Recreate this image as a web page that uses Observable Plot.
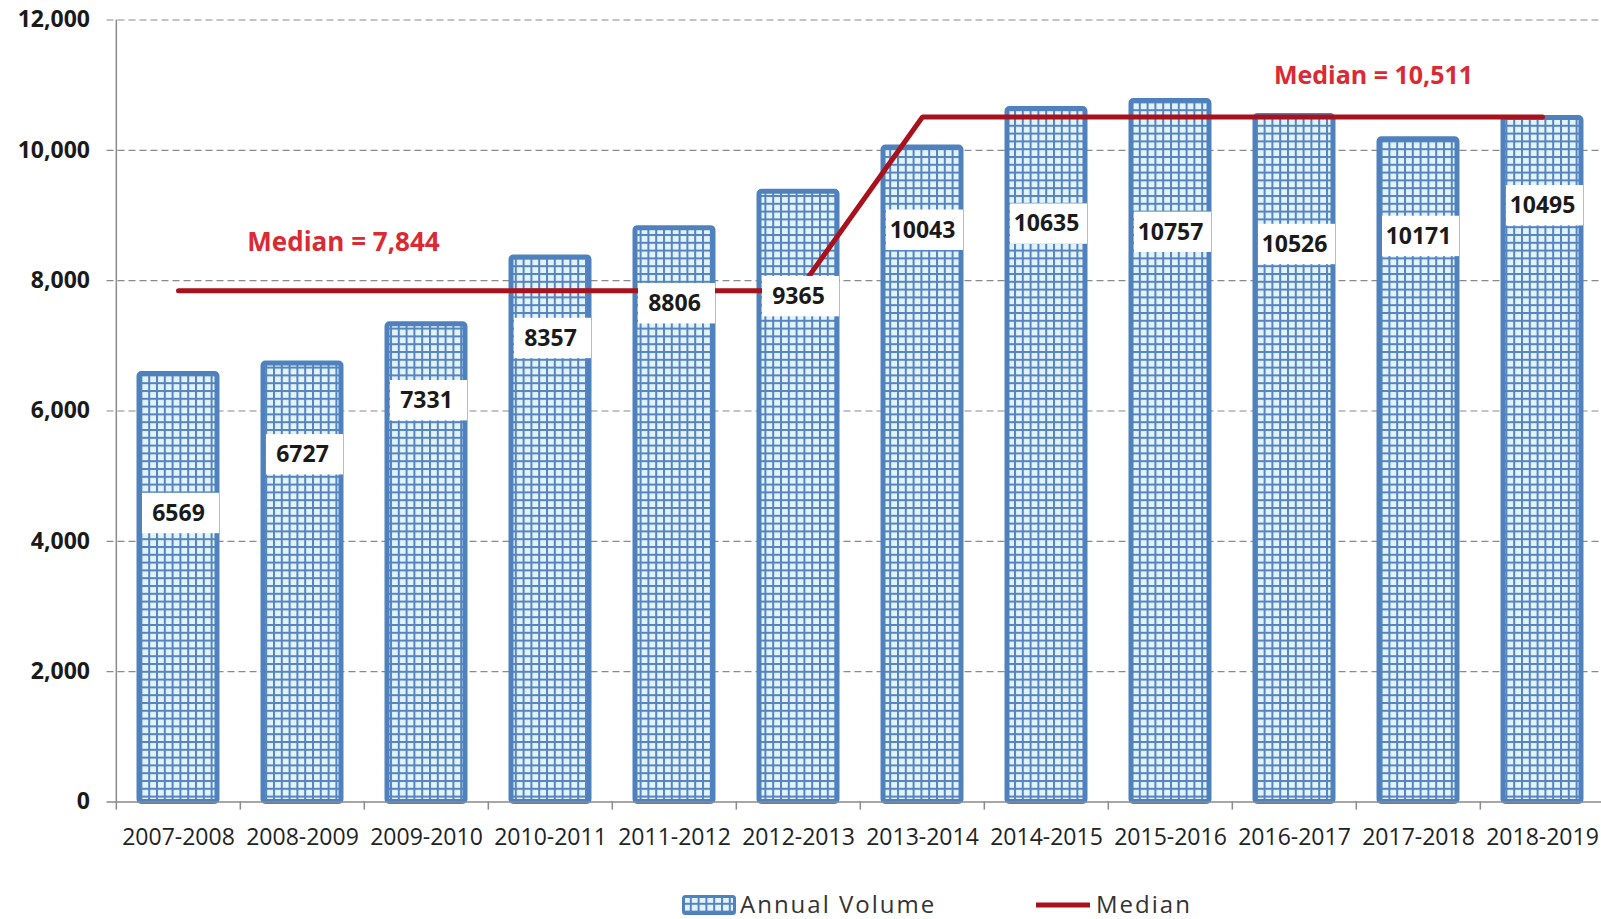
<!DOCTYPE html>
<html>
<head>
<meta charset="utf-8">
<script src="https://cdn.jsdelivr.net/npm/d3@7"></script>
<script src="https://cdn.jsdelivr.net/npm/@observablehq/plot@0.6"></script>
<style>
  html, body { margin: 0; padding: 0; background: #fff; }
  #wrap { position: relative; width: 1601px; height: 919px; overflow: hidden; font-family: "Open Sans", sans-serif; }
  #chart svg { display: block; font-family: "Open Sans", sans-serif; }
  [aria-label^="x-axis"] text { font-size: 23px; fill: #222; font-weight: 400; }
  [aria-label^="y-axis"] text { font-size: 23px; fill: #1a1a1a; font-weight: 700; }
  .leg { position: absolute; font-size: 24px; letter-spacing: 2px; color: #333; line-height: 1; }
</style>
</head>
<body>
<svg width="0" height="0" style="position:absolute">
  <defs>
    <pattern id="grid" width="7.8" height="7.8" patternUnits="userSpaceOnUse">
      <rect width="7.8" height="7.8" fill="#5584bf"></rect>
      <rect x="2" y="2" width="5.8" height="5.8" fill="#e2f3fb"></rect>
    </pattern>
  </defs>
</svg>
<div id="wrap">
  <div id="chart"></div>
  <div id="legend"></div>
</div>
<script>
// ---- data ----
const categories = ["2007-2008","2008-2009","2009-2010","2010-2011","2011-2012","2012-2013","2013-2014","2014-2015","2015-2016","2016-2017","2017-2018","2018-2019"];
const volumes = [6569, 6727, 7331, 8357, 8806, 9365, 10043, 10635, 10757, 10526, 10171, 10495];
const medians = [7844, 7844, 7844, 7844, 7844, 7844, 10511, 10511, 10511, 10511, 10511, 10511];
const labelAt = [4427, 5328, 6158, 7113, 7646, 7755, 8774, 8868, 8742, 8555, 8679, 9150];
const yTicks = [0, 2000, 4000, 6000, 8000, 10000, 12000];
const noteTexts = ["Median = 7,844", "Median = 10,511"];
const noteCats = ["2008-2009", "2017-2018"];
const noteAt = [8586, 11148];
const legendNames = ["Annual Volume", "Median"];

const rows = categories.map((c, i) => ({cat: c, vol: volumes[i], med: medians[i], lab: labelAt[i]}));
const notes = noteTexts.map((t, i) => ({text: t, cat: noteCats[i], v: noteAt[i]}));

const W = 1601, H = 870;
const x0 = 114.5, x1 = 1606.5;
const step = (x1 - x0) / categories.length;
const blue = "#4f81bd", red = "#a8121c", noteRed = "#da2a33";

const chart = Plot.plot({
  width: W,
  height: H,
  marginLeft: x0,
  marginRight: 0,
  marginTop: 19.5,
  marginBottom: H - 801.5,
  style: {fontFamily: "Open Sans, sans-serif", background: "white", overflow: "hidden"},
  x: {domain: categories, range: [x0, x1], paddingInner: 0.37, paddingOuter: 0.185, align: 0.5,
      tickSize: 0, tickPadding: 27, label: null},
  y: {domain: [0, 12000], ticks: yTicks, tickFormat: d3.format(","), tickSize: 0, tickPadding: 25, label: null},
  marks: [
    Plot.ruleY(yTicks.filter(d => d > 0), {stroke: "#8a8a8a", strokeWidth: 1.2, strokeDasharray: "7,4", insetLeft: -8}),
    Plot.barY(rows, {x: "cat", y: "vol", fill: "url(#grid)", stroke: blue, strokeWidth: 5, rx: 2.5}),
    Plot.ruleY([0], {stroke: "#8a8a8a", strokeWidth: 1.5, insetLeft: -8}),
    Plot.ruleX(categories, {x: d => d, dx: -step / 2, y1: 0, y2: -125, stroke: "#8a8a8a", strokeWidth: 1.5}),
    Plot.ruleX([categories[0]], {x: d => d, dx: -step / 2, y1: 0, y2: 12000, stroke: "#8a8a8a", strokeWidth: 1.5}),
    Plot.line(rows, {x: "cat", y: "med", stroke: red, strokeWidth: 5, strokeLinejoin: "miter"}),
    Plot.barY(rows, {x: "cat", y1: d => d.lab - 310, y2: d => d.lab + 310, fill: "white", insetLeft: 3, insetRight: -2}),
    Plot.text(rows, {x: "cat", y: "lab", text: d => String(d.vol), fontSize: 23, fontWeight: 700, fill: "#1a1a1a"}),
    Plot.text(notes.slice(0, 1), {x: "cat", y: "v", text: "text", fontSize: 26, fontWeight: 700, fill: noteRed, dx: 41}),
    Plot.text(notes.slice(1), {x: "cat", y: "v", text: "text", fontSize: 25, fontWeight: 700, fill: noteRed, dx: -45})
  ]
});
document.getElementById("chart").appendChild(chart);

// ---- legend ----
const legend = document.getElementById("legend");
legend.innerHTML = `
  <svg style="position:absolute;left:682px;top:895px" width="54" height="20">
    <rect x="1.5" y="1.5" width="51" height="17" fill="url(#grid)" stroke="${blue}" stroke-width="3" rx="2"></rect>
  </svg>
  <div class="leg" style="left:740px;top:892px">${legendNames[0]}</div>
  <svg style="position:absolute;left:1036px;top:902px" width="54" height="6">
    <rect x="0" y="0.5" width="54" height="5" fill="${red}"></rect>
  </svg>
  <div class="leg" style="left:1096px;top:892px">${legendNames[1]}</div>
`;
</script>
</body>
</html>
